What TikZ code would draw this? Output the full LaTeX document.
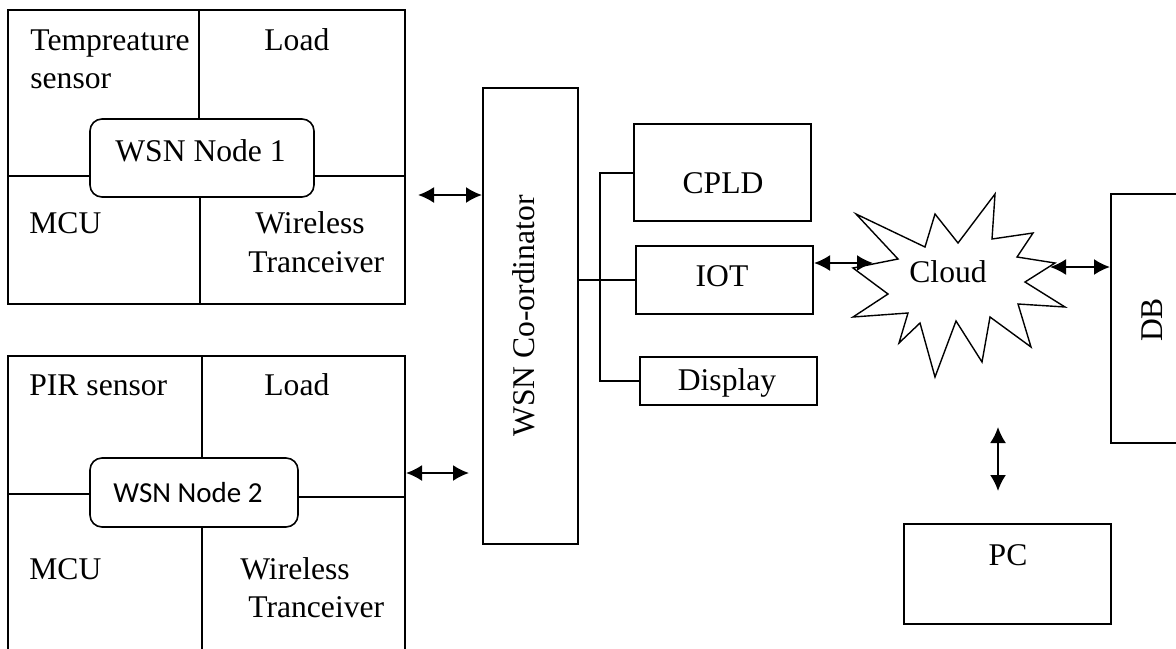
\documentclass[tikz,border=0pt]{standalone}
\usepackage{fontspec}
\setmainfont{Liberation Serif}
\newfontfamily\calibri{Carlito}
\usetikzlibrary{arrows.meta,positioning}
\tikzset{
  blk/.style={draw,line width=1pt,inner sep=0pt},
  rblk/.style={draw,line width=0.8pt,rounded corners=6pt,fill=white,inner sep=0pt},
  divline/.style={line width=0.7pt},
  txt/.style={inner sep=0pt,anchor=base west,font=\fontsize{15.8}{19}\selectfont},
  ctxt/.style={txt,anchor=base},
  biarrow/.style={{Latex[length=8pt,width=8pt]}-{Latex[length=8pt,width=8pt]},line width=1pt},
}

\begin{document}
\begin{tikzpicture}[x=0.5pt,y=-0.5pt]
      \useasboundingbox (0,0) rectangle (1176,648);
      \node[blk,minimum width=198.5pt,minimum height=147pt] (n1) at (206.5,157) {};
      \draw[divline] (199,10) -- (199,119);
      \draw[divline] (200,197) -- (200,304);
      \draw[divline] (8,176) -- (405,176);
      \node[rblk,minimum width=112pt,minimum height=39pt] (wsn1) at (202,158) {};
      \node[txt] (temp) at (30,50) {Tempreature};
      \node[txt] (sens) at (30,88) {sensor};
      \node[txt] (load1) at (264,50) {Load};
      \node[txt] (mcu1) at (29,233) {MCU};
      \node[txt] (wl1) at (255,233) {Wireless};
      \node[txt] (tr1) at (248,272) {Tranceiver};
      \node[txt] (wsn1t) at (115,161) {WSN Node 1};

      \node[blk,minimum width=198.5pt,minimum height=172pt] (n2) at (206.5,528) {};
      \draw[divline] (202,356) -- (202,458);
      \draw[divline] (202,527) -- (202,700);
      \draw[divline] (8,494) -- (90,494);
      \draw[divline] (298,497) -- (405,497);
      \node[rblk,minimum width=104pt,minimum height=34.5pt] (wsn2) at (194,492.5) {};
      \node[txt] (pir) at (29,395) {PIR sensor};
      \node[txt] (load2) at (264,395) {Load};
      \node[txt] (mcu2) at (29,579) {MCU};
      \node[txt] (wl2) at (240,579) {Wireless};
      \node[txt] (tr2) at (248,617) {Tranceiver};
      \node[txt,font=\calibri\fontsize{14.5}{17}\selectfont] (wsn2t) at (113,502) {WSN Node 2};

      \node[blk,minimum width=47.5pt,minimum height=228pt] (coord) at (530.5,316) {};
      \node[txt,anchor=center,rotate=90] (coordt) at (524,316) {WSN Co-ordinator};

      \node[blk,minimum width=88.5pt,minimum height=48.5pt] (cpld) at (722.5,172.5) {};
      \node[ctxt] (cpldt) at (723,193) {CPLD};
      \node[blk,minimum width=88.5pt,minimum height=34pt] (iot) at (724.5,280) {};
      \node[ctxt] (iott) at (722,286) {IOT};
      \node[blk,minimum width=88.5pt,minimum height=24pt] (disp) at (728.5,381) {};
      \node[ctxt] (dispt) at (727,390) {Display};

      \coordinate (bus) at (600,0);
      \draw[line width=1pt] (cpld.west) -- (cpld.west -| bus) -- (disp.west -| bus) -- (disp.west);
      \draw[line width=1pt] (coord.east |- iot.west) -- (iot.west);

      \draw[line width=0.7pt] (856,214) -- (925,247) -- (935,214) -- (958,243) -- (995,194) -- (992,239)
        -- (1033,233) -- (1017,257) -- (1055,263) -- (1025,282) -- (1065,307) -- (1018,304)
        -- (1031,347) -- (990,317) -- (982,362) -- (956,321) -- (935,377) -- (920,323)
        -- (899,343) -- (908,313) -- (853,317) -- (888,294) -- (853,268) -- (898,259) -- cycle;
      \node[ctxt] (cloud) at (948,282) {Cloud};

      \node[blk,minimum width=44.5pt,minimum height=124.5pt] (db) at (1155.5,318.5) {};
      \node[txt,anchor=center,rotate=90] (dbt) at (1152,320) {DB};
      \node[blk,minimum width=103.5pt,minimum height=50pt] (pc) at (1007.5,574) {};
      \node[ctxt] (pct) at (1008,565) {PC};

      \coordinate (a1) at (0,195);
      \coordinate (a2) at (0,473);
      \coordinate (cloudw) at (873,263);
      \coordinate (cloude) at (1050,267);
      \coordinate (pcup) at (998,427);
      \draw[biarrow,shorten <=6pt] (n1.east |- a1) -- (coord.west |- a1);
      \draw[biarrow,shorten >=6.5pt] (n2.east |- a2) -- (coord.west |- a2);
      \draw[biarrow] (iot.east |- cloudw) -- (cloudw);
      \draw[biarrow] (cloude) -- (db.west |- cloude);
      \draw[biarrow,shorten >=16pt] (pcup) -- (pcup |- pc.north);
\end{tikzpicture}
\end{document}
